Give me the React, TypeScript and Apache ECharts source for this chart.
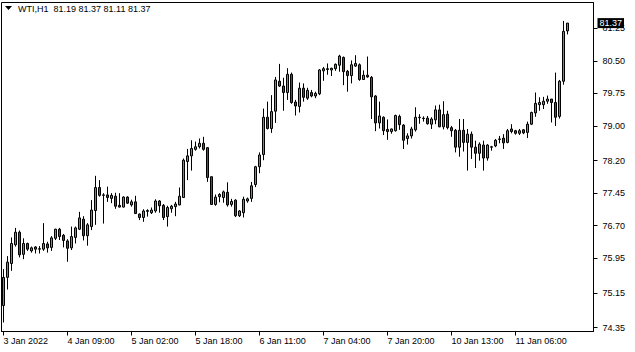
import React, { useEffect, useRef } from "react";
import * as echarts from "echarts";

// OHLC values (one entry per H1 bar)
const opens = [
  74.86, 75.51, 75.83, 76.26, 76.55, 76.04, 76.29, 76.12, 76.21, 76.16,
  76.16, 76.28, 76.2, 76.41, 76.62, 76.48, 76.35, 76.19, 76.43, 76.62,
  76.85, 76.47, 76.68, 77.05, 77.58, 77.4, 77.41, 77.33, 77.38, 77.17,
  77.13, 77.36, 77.18, 77.25, 76.97, 76.89, 77.03, 77.0, 77.04, 77.27,
  77.17, 76.91, 77.09, 77.14, 77.18, 77.35, 78.18, 78.31, 78.46, 78.52,
  78.6, 78.5, 77.83, 77.19, 77.37, 77.35, 77.47, 77.19, 77.29, 76.93,
  77.0, 77.27, 77.33, 77.65, 78.06, 78.34, 79.2, 78.94, 79.34, 80.03,
  79.92, 79.77, 80.19, 79.55, 79.45, 79.87, 79.64, 79.77, 79.69, 79.74,
  80.27, 80.3, 80.29, 80.32, 80.4, 80.58, 80.26, 80.16, 80.38, 80.41,
  80.07, 80.17, 80.12, 79.69, 79.07, 79.2, 78.92, 78.87, 78.89, 79.22,
  79.02, 78.71, 78.77, 78.91, 79.19, 79.17, 79.18, 79.04, 79.14, 79.37,
  78.98, 79.27, 78.96, 78.9, 78.51, 78.9, 78.62, 78.81, 78.51, 78.37,
  78.56, 78.26, 78.51, 78.54, 78.69, 78.72, 78.62, 78.93, 78.89, 78.83,
  78.91, 78.85, 79.04, 79.3, 79.49, 79.49, 79.57, 79.62, 79.54, 79.22,
  80.03, 81.19,
];
const highs = [
  75.7, 76.0, 76.43, 76.65, 76.59, 76.41, 76.31, 76.22, 76.23, 76.23,
  76.76, 76.33, 76.46, 76.63, 76.65, 76.51, 76.39, 76.68, 76.68, 77.02,
  76.92, 76.76, 77.29, 77.85, 77.75, 77.45, 77.6, 77.45, 77.46, 77.45,
  77.38, 77.38, 77.3, 77.39, 76.98, 77.08, 77.08, 77.12, 77.31, 77.29,
  77.2, 77.16, 77.18, 77.25, 77.58, 78.25, 78.47, 78.67, 78.64, 78.71,
  78.75, 78.51, 77.83, 77.42, 77.45, 77.51, 77.7, 77.32, 77.31, 77.06,
  77.37, 77.35, 77.71, 78.08, 78.39, 79.4, 79.56, 79.71, 80.13, 80.43,
  80.11, 80.33, 80.23, 79.6, 80.0, 79.98, 79.88, 79.83, 79.79, 80.31,
  80.36, 80.44, 80.34, 80.44, 80.64, 80.6, 80.29, 80.51, 80.63, 80.44,
  80.28, 80.6, 80.15, 79.71, 79.56, 79.22, 79.15, 78.94, 79.26, 79.26,
  79.04, 78.83, 78.98, 79.43, 79.27, 79.22, 79.23, 79.2, 79.47, 79.49,
  79.57, 79.35, 79.0, 78.93, 79.16, 79.16, 78.93, 78.87, 78.66, 78.62,
  78.66, 78.58, 78.54, 78.7, 78.77, 78.81, 78.93, 79.04, 78.91, 78.93,
  78.93, 79.1, 79.33, 79.77, 79.66, 79.67, 79.7, 79.62, 80.23, 80.06,
  81.42, 81.37,
];
const lows = [
  74.47, 75.23, 75.66, 76.22, 75.97, 75.93, 76.12, 76.08, 76.06, 76.06,
  76.12, 76.08, 76.12, 76.37, 76.37, 76.2, 75.87, 76.14, 76.29, 76.6,
  76.36, 76.24, 76.6, 76.72, 77.37, 76.75, 77.25, 77.22, 77.09, 77.12,
  77.12, 77.2, 77.14, 76.97, 76.83, 76.79, 76.91, 76.97, 77.0, 77.0,
  76.83, 76.68, 77.0, 76.92, 77.17, 77.34, 77.75, 77.97, 78.43, 78.48,
  78.43, 77.71, 77.18, 77.16, 77.24, 77.23, 77.14, 77.14, 76.9, 76.9,
  76.89, 77.23, 77.25, 77.59, 77.91, 78.21, 78.92, 78.84, 79.07, 79.9,
  79.35, 79.6, 79.51, 79.24, 79.31, 79.56, 79.6, 79.66, 79.64, 79.71,
  80.04, 80.18, 80.15, 80.27, 80.25, 79.94, 79.79, 79.98, 80.36, 80.04,
  80.06, 80.11, 79.16, 78.88, 78.94, 78.79, 78.68, 78.82, 78.87, 78.91,
  78.47, 78.57, 78.71, 78.87, 79.05, 79.1, 79.03, 78.93, 79.04, 78.97,
  78.92, 78.92, 78.75, 78.39, 78.29, 78.41, 77.97, 78.24, 78.03, 78.2,
  77.97, 78.2, 78.43, 78.51, 78.6, 78.47, 78.6, 78.83, 78.8, 78.79,
  78.81, 78.72, 79.02, 79.21, 79.35, 79.39, 79.51, 79.08, 79.0, 79.17,
  79.95, 81.11,
];
const closes = [
  75.51, 75.86, 76.29, 76.55, 76.03, 76.29, 76.16, 76.19, 76.16, 76.17,
  76.29, 76.19, 76.42, 76.62, 76.45, 76.36, 76.18, 76.45, 76.65, 76.88,
  76.47, 76.72, 77.06, 77.58, 77.4, 77.41, 77.35, 77.4, 77.15, 77.13,
  77.36, 77.22, 77.25, 76.98, 76.89, 77.04, 77.05, 77.06, 77.27, 77.16,
  76.89, 77.12, 77.15, 77.2, 77.38, 78.21, 78.31, 78.48, 78.52, 78.6,
  78.46, 77.81, 77.19, 77.36, 77.42, 77.48, 77.18, 77.26, 76.93, 77.04,
  77.31, 77.32, 77.62, 78.06, 78.33, 79.2, 78.94, 79.33, 80.06, 79.92,
  79.77, 80.19, 79.54, 79.46, 79.87, 79.66, 79.82, 79.69, 79.75, 80.29,
  80.32, 80.32, 80.33, 80.42, 80.61, 80.25, 80.16, 80.41, 80.44, 80.07,
  80.17, 80.13, 79.67, 79.07, 79.23, 78.89, 78.87, 78.93, 79.24, 79.03,
  78.67, 78.77, 78.93, 79.2, 79.2, 79.18, 79.05, 79.16, 79.37, 78.98,
  79.26, 78.96, 78.89, 78.51, 78.9, 78.62, 78.81, 78.51, 78.37, 78.58,
  78.26, 78.56, 78.52, 78.67, 78.7, 78.61, 78.89, 78.87, 78.83, 78.89,
  78.84, 79.04, 79.31, 79.52, 79.54, 79.57, 79.62, 79.54, 79.2, 80.03,
  81.18, 81.37,
];

const tickLabels = [
  "3 Jan 2022",
  "4 Jan 09:00",
  "5 Jan 02:00",
  "5 Jan 18:00",
  "6 Jan 11:00",
  "7 Jan 04:00",
  "7 Jan 20:00",
  "10 Jan 13:00",
  "11 Jan 06:00",
];
const tickEvery = 16;
const priceTicks = [74.35, 75.15, 75.95, 76.7, 77.45, 78.2, 79.0, 79.75, 80.5, 81.25];
const emptyBarsRight = 6;

const symbolTitle = "WTI,H1";
const FONT = "'Liberation Sans', Arial, sans-serif";

export default function App() {
  const ref = useRef<HTMLDivElement>(null);

  useEffect(() => {
    document.body.style.margin = "0";
    const chart = echarts.init(ref.current as HTMLDivElement, null, { renderer: "svg" });
    const n = opens.length;
    const cats = Array.from({ length: n + emptyBarsRight }, (_, i) => String(i));
    const data = opens.map((o, i) => [o, closes[i], lows[i], highs[i]]);
    const last = n - 1;
    const showTick = (i: number) => i % tickEvery === 0 && i / tickEvery < tickLabels.length;
    const titleText =
      symbolTitle +
      "  " +
      [opens[last], highs[last], lows[last], closes[last]].map((v) => v.toFixed(2)).join(" ");

    chart.setOption({
      animation: false,
      backgroundColor: "#ffffff",
      grid: {
        left: 1.5,
        top: 2.5,
        right: 41.5,
        bottom: 20.5,
        show: true,
        borderColor: "#000",
        borderWidth: 1,
        containLabel: false,
      },
      xAxis: {
        type: "category",
        data: cats,
        boundaryGap: true,
        axisLine: { show: true, lineStyle: { color: "#000", width: 1 } },
        axisTick: {
          show: true,
          alignWithLabel: true,
          interval: (i: number) => showTick(i),
          length: 4,
          lineStyle: { color: "#000", width: 1 },
        },
        axisLabel: {
          interval: (i: number) => showTick(i),
          formatter: (_v: string, i: number) => tickLabels[Math.round(i / tickEvery)] ?? "",
          align: "left",
          color: "#000",
          fontSize: 9,
          fontFamily: FONT,
          margin: 5,
        },
        splitLine: { show: false },
      },
      yAxis: {
        type: "value",
        position: "right",
        min: 74.262,
        max: 81.845,
        scale: true,
        axisLine: { show: true, lineStyle: { color: "#000", width: 1 } },
        axisTick: {
          show: true,
          length: 4,
          customValues: priceTicks,
          lineStyle: { color: "#000", width: 1 },
        },
        axisLabel: {
          customValues: priceTicks,
          formatter: (v: number) => v.toFixed(2),
          color: "#000",
          fontSize: 9,
          fontFamily: FONT,
          margin: 9,
        },
        splitLine: { show: false },
      },
      graphic: [
        {
          type: "polygon",
          shape: { points: [[5, 6], [12, 6], [8.5, 10]] },
          style: { fill: "#000" },
        },
        {
          type: "text",
          left: 18,
          top: 4,
          style: {
            text: titleText,
            fill: "#000",
            fontSize: 9,
            fontFamily: FONT,
          },
        },
      ],
      series: [
        {
          type: "candlestick",
          data,
          barWidth: 2,
          z: 2,
          itemStyle: {
            color: "#3cb43c",
            color0: "#dc1414",
            borderColor: "#000",
            borderColor0: "#000",
            borderColorDoji: "#000",
            borderWidth: 1,
          },
          markLine: {
            silent: true,
            symbol: ["none", "none"],
            z: 10,
            lineStyle: { color: "rgba(0,0,0,0)", width: 1, type: "solid" },
            emphasis: { disabled: true },
            data: [{ yAxis: closes[last] }],
            label: {
              show: true,
              position: "end",
              distance: 4,
              formatter: closes[last].toFixed(2),
              color: "#fff",
              backgroundColor: "#000",
              padding: [1, 2, 0, 2],
              fontSize: 9,
              fontFamily: FONT,
              opacity: 1,
            },
          },
        },
      ],
    });
    return () => chart.dispose();
  }, []);

  return (
    <div
      ref={ref}
      style={{ position: "absolute", left: 0, top: 0, width: 635, height: 352, background: "#fff" }}
    />
  );
}
